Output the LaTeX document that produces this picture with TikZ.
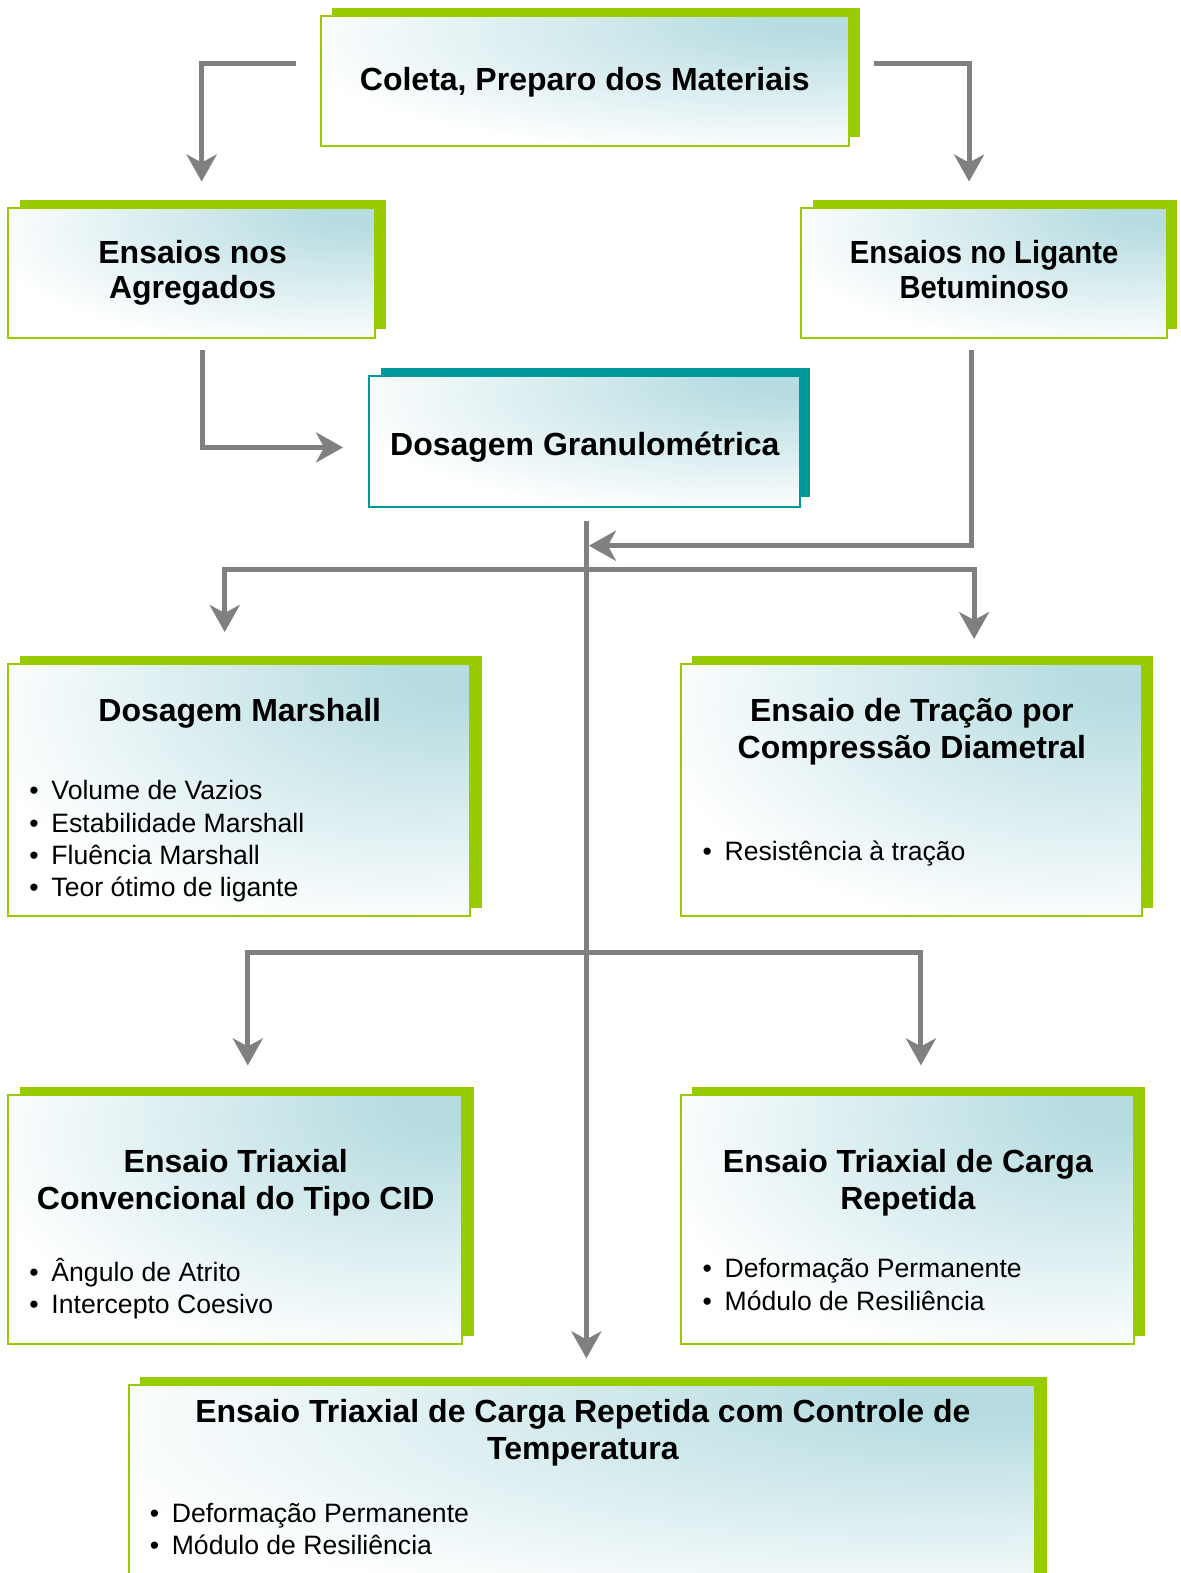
\documentclass[tikz,border=0pt]{standalone}
\usepackage{fontspec}
\usepackage{graphicx}
\setmainfont{Liberation Sans}
\usetikzlibrary{arrows.meta,calc,fit}
\definecolor{lime}{HTML}{99CC00}
\definecolor{tealc}{HTML}{009999}
\definecolor{arrgray}{HTML}{808080}
\definecolor{shadec}{HTML}{B6DCE1}
\pgfdeclareradialshading{glow}{\pgfpoint{25bp}{25bp}}{color(0bp)=(shadec); color(6bp)=(shadec); color(44bp)=(white); color(120bp)=(white)}
\newcommand\bulit{\makebox[11pt][l]{\textbullet}}
\tikzset{
 mainbox/.style={draw=#1, line width=1pt, shade, shading=glow, inner sep=0pt},
 titletext/.style={font=\bfseries\fontsize{16}{18.5}\selectfont, align=center, inner sep=0pt},
 titletight/.style={font=\bfseries\fontsize{16}{17.5}\selectfont, align=center, inner sep=0pt},
 bullets/.style={font=\fontsize{13.3}{16.1}\selectfont, align=left, inner sep=0pt, anchor=west},
 arr/.style={draw=arrgray, line width=2.5pt, -{Stealth[length=13.5pt,width=15pt,inset=4pt]}},
}
\begin{document}
\begin{tikzpicture}[x=0.5017pt,y=-0.5017pt]
\path[use as bounding box] (0,0) rectangle (1177,1568);
\clip (0,0) rectangle (1177,1568);

% Coleta
\fill[lime] (331,8) rectangle (857,137);
\node[mainbox=lime, fit={(320,16)(846,146)}] (coleta) {};
\node[titletext] (tcoleta) at (583,83) {\strut Coleta, Preparo dos Materiais\strut};

% Agregados
\fill[lime] (20,199) rectangle (385,328);
\node[mainbox=lime, fit={(8,207)(374,337)}] (agreg) {};
\node[titletight] (tagreg) at (192,273) {\strut Ensaios nos\\Agregados\strut};

% Ligante
\fill[lime] (810,199) rectangle (1173,328);
\node[mainbox=lime, fit={(798,207)(1163,337)}] (ligante) {};
\node[titletight] (tligante) at (981,273) {\strut\scalebox{0.915}[1]{Ensaios no Ligante}\\\scalebox{0.915}[1]{Betuminoso}\strut};

% Dosagem Granulometrica
\fill[tealc] (380,367) rectangle (807,495);
\node[mainbox=tealc, fit={(368,375)(797,505)}] (dosgran) {};
\node[titletext] (tdosgran) at (583,447) {\strut Dosagem Granulométrica\strut};

% Marshall
\fill[lime] (20,654) rectangle (480,905);
\node[mainbox=lime, fit={(8,662)(469,913)}] (marshall) {};
\node[titletext] (tmarshall) at (239,712) {\strut Dosagem Marshall\strut};
\node[bullets] (bmarshall) at (29,839) {\strut\bulit Volume de Vazios\\ \bulit Estabilidade Marshall\\ \bulit Fluência Marshall\\ \bulit Teor ótimo de ligante\strut};

% Tracao
\fill[lime] (690,654) rectangle (1149,905);
\node[mainbox=lime, fit={(679,662)(1138,913)}] (tracao) {};
\node[titletext] (ttracao) at (909,730.5) {\strut Ensaio de Tração por\\Compressão Diametral\strut};
\node[bullets] (btracao) at (700,851.4) {\strut\bulit Resistência à tração\strut};

% CID
\fill[lime] (20,1084) rectangle (472,1332);
\node[mainbox=lime, fit={(8,1092)(461,1340)}] (cid) {};
\node[titletext] (tcid) at (235,1179.5) {\strut Ensaio Triaxial\\Convencional do Tipo CID\strut};
\node[bullets] (bcid) at (29,1286.4) {\strut\bulit Ângulo de Atrito\\ \bulit Intercepto Coesivo\strut};

% Carga repetida
\fill[lime] (690,1084) rectangle (1141,1332);
\node[mainbox=lime, fit={(679,1092)(1130,1340)}] (repet) {};
\node[titletext] (trepet) at (905,1179.5) {\strut Ensaio Triaxial de Carga\\Repetida\strut};
\node[bullets] (brepet) at (700,1283.4) {\strut\bulit Deformação Permanente\\ \bulit Módulo de Resiliência\strut};

% Temperatura
\fill[lime] (140,1373) rectangle (1044,1600);
\node[mainbox=lime, fit={(129,1381)(1032,1600)}] (temp) {};
\node[titletext] (ttemp) at (581,1429.5) {\strut Ensaio Triaxial de Carga Repetida com Controle de\\Temperatura\strut};
\node[bullets] (btemp) at (149,1527.4) {\strut\bulit Deformação Permanente\\ \bulit Módulo de Resiliência\strut};

% Connectors
\draw[arr] ($(coleta.west)+(-24,-18)$) -| ($(agreg.north)+(10,-25)$);
\draw[arr] ($(coleta.east)+(24,-18)$) -| ($(ligante.north)+(-14.5,-25)$);
\draw[arr] ($(agreg.south)+(11,11)$) |- ($(dosgran.west)+(-25,6)$);
\draw[arr] ($(ligante.south)+(-12.5,11)$) |- ($(dosgran.south)+(4.5,38)$);
\coordinate (top) at ($(dosgran.south)+(2,13)$);
\coordinate (j1) at ($(dosgran.south)+(2,62)$);
\coordinate (j2) at ($(dosgran.south)+(2,443)$);
\draw[arr] (top) -- ($(temp.north)+(4,-26)$);
\draw[arr] (j1) -| ($(marshall.north)+(-14.5,-31)$);
\draw[arr] (j1) -| ($(tracao.north)+(62.5,-24)$);
\draw[arr] (j2) -| ($(cid.north)+(12.5,-29)$);
\draw[arr] (j2) -| ($(repet.north)+(13.5,-29)$);
\end{tikzpicture}
\end{document}
